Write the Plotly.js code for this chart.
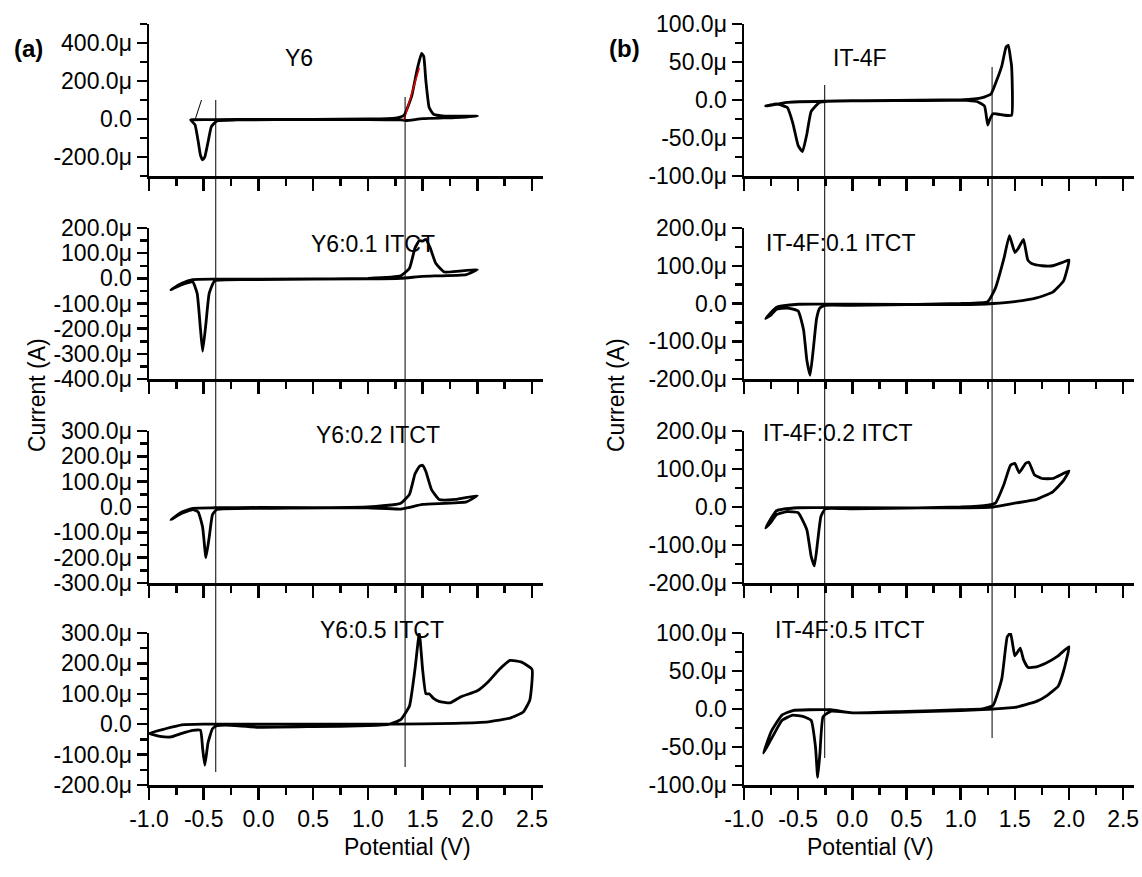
<!DOCTYPE html>
<html>
<head>
<meta charset="utf-8">
<script src="https://cdn.plot.ly/plotly-3.0.1.min.js"></script>
<style>body{margin:0;background:#fff}</style>
</head>
<body>
<div id="chart" style="width:1142px;height:877px"></div>
<script>
// currents in microamps, potentials in volts
const y6X = [-0.62,-0.58,-0.55,-0.53,-0.51,-0.49,-0.46,-0.43,-0.38,-0.2,0.5,1.0,1.25,1.33,1.4,1.45,1.49,1.51,1.53,1.56,1.6,1.7,2.0,1.8,1.5,1.35,1.3,1.0,0.0,-0.4,-0.6,-0.62];
const y6Y = [-5,-30,-120,-190,-215,-200,-120,-40,-10,-5,-2,0,5,20,120,260,345,330,200,60,25,15,15,8,2,-8,-5,-3,-2,-3,-4,-5];

const y61X = [-0.8,-0.7,-0.6,-0.56,-0.53,-0.51,-0.48,-0.45,-0.4,0.0,1.0,1.3,1.38,1.43,1.47,1.5,1.53,1.57,1.62,1.7,2.0,1.9,1.5,1.3,1.0,0.0,-0.4,-0.6,-0.7,-0.8];
const y61Y = [-45,-25,-15,-60,-200,-290,-180,-60,-10,-5,0,10,40,120,150,148,155,120,60,25,35,15,8,0,-2,-3,-3,-5,-20,-45];

const y62X = [-0.8,-0.7,-0.6,-0.55,-0.51,-0.48,-0.45,-0.42,-0.38,0.0,1.0,1.3,1.38,1.43,1.47,1.5,1.53,1.58,1.65,1.8,2.0,1.9,1.5,1.3,1.0,0.0,-0.4,-0.6,-0.7,-0.8];
const y62Y = [-50,-25,-10,-20,-80,-200,-120,-30,-10,-5,0,15,50,130,160,165,140,70,30,30,45,20,10,-8,-3,-2,-3,-5,-20,-50];

const y65X = [0.0,0.5,1.0,1.2,1.3,1.38,1.43,1.47,1.5,1.53,1.56,1.6,1.65,1.75,1.85,2.0,2.1,2.2,2.3,2.4,2.5,2.48,2.42,2.3,2.1,1.8,1.5,1.0,0.5,0.0,-0.3,-0.5,-0.7,-0.85,-1.0,-0.9,-0.8,-0.7,-0.6,-0.53,-0.51,-0.49,-0.46,-0.42,-0.38,-0.3,0.0];
const y65Y = [-10,-8,-5,0,15,60,180,300,180,100,100,85,75,70,90,110,140,180,210,205,180,80,40,20,8,3,1,0,0,0,0,0,-2,-15,-30,-40,-42,-30,-20,-20,-80,-135,-60,-15,-5,-3,-10];

const it4X = [-0.8,-0.7,-0.6,-0.55,-0.5,-0.46,-0.42,-0.38,-0.3,0.0,1.0,1.2,1.28,1.33,1.38,1.42,1.44,1.46,1.47,1.47,1.4,1.3,1.27,1.25,1.22,1.15,1.0,0.0,-0.6,-0.8];
const it4Y = [-8,-5,-10,-30,-60,-68,-45,-15,-3,-1,0,3,8,25,45,70,72,55,45,-20,-20,-18,-25,-33,-8,-2,0,-1,-3,-8];

const it41X = [-0.8,-0.75,-0.7,-0.6,-0.5,-0.45,-0.42,-0.39,-0.36,-0.33,-0.3,-0.25,0.0,1.0,1.25,1.32,1.4,1.45,1.5,1.53,1.58,1.62,1.66,1.75,1.85,1.95,2.0,1.95,1.85,1.7,1.5,1.3,1.0,0.0,-0.5,-0.7,-0.8];
const it41Y = [-40,-30,-15,-12,-20,-70,-150,-190,-120,-40,-12,-5,-5,0,5,40,120,180,135,145,170,115,105,100,100,110,115,60,30,15,5,0,-3,-2,-2,-10,-40];

const it42X = [-0.8,-0.75,-0.7,-0.6,-0.5,-0.42,-0.38,-0.35,-0.32,-0.29,-0.25,0.0,1.0,1.25,1.32,1.4,1.46,1.5,1.54,1.6,1.63,1.68,1.75,1.85,2.0,1.95,1.85,1.7,1.5,1.3,1.0,0.0,-0.5,-0.7,-0.8];
const it42Y = [-55,-40,-20,-12,-15,-60,-130,-155,-90,-25,-5,-5,0,5,10,60,110,115,90,115,118,85,75,75,95,70,40,20,10,0,-2,-2,-2,-10,-55];

const it45X = [0.0,0.5,1.0,1.2,1.3,1.38,1.43,1.46,1.48,1.5,1.55,1.58,1.62,1.68,1.78,1.9,2.0,1.95,1.9,1.8,1.7,1.5,1.3,1.0,0.5,0.0,-0.2,-0.27,-0.3,-0.32,-0.34,-0.38,-0.45,-0.55,-0.65,-0.75,-0.82,-0.75,-0.65,-0.55,-0.4,-0.2,0.0];
const it45Y = [-5,-3,-1,0,5,40,95,100,85,70,80,65,55,55,60,70,82,50,30,18,10,2,0,-2,-4,-5,-3,-10,-60,-90,-50,-15,-10,-8,-15,-40,-58,-30,-8,-2,-1,-1,-5];

const panels = [
  {x: y6X, y: y6Y, name: 'Y6', range: [-300, 500], ticks: [-200, 0, 200, 400], tx: 283, ty: 43},
  {x: y61X, y: y61Y, name: 'Y6:0.1 ITCT', range: [-400, 200], ticks: [-400, -300, -200, -100, 0, 100, 200], tx: 309, ty: 229},
  {x: y62X, y: y62Y, name: 'Y6:0.2 ITCT', range: [-300, 300], ticks: [-300, -200, -100, 0, 100, 200, 300], tx: 314, ty: 435},
  {x: y65X, y: y65Y, name: 'Y6:0.5 ITCT', range: [-200, 300], ticks: [-200, -100, 0, 100, 200, 300], tx: 318, ty: 645},
  {x: it4X, y: it4Y, name: 'IT-4F', range: [-100, 100], ticks: [-100, -50, 0, 50, 100], tx: 889, ty: 43},
  {x: it41X, y: it41Y, name: 'IT-4F:0.1 ITCT', range: [-200, 200], ticks: [-200, -100, 0, 100, 200], tx: 918, ty: 228},
  {x: it42X, y: it42Y, name: 'IT-4F:0.2 ITCT', range: [-200, 200], ticks: [-200, -100, 0, 100, 200], tx: 915, ty: 433},
  {x: it45X, y: it45Y, name: 'IT-4F:0.5 ITCT', range: [-100, 100], ticks: [-100, -50, 0, 50, 100], tx: 927, ty: 645}
];
const onsetA = [-0.39, 1.34];
const onsetB = [-0.255, 1.29];

const W = 1142, H = 877;
const rowsPx = [[24, 176], [228, 379], [431, 583], [633, 785]];
const colsPx = [[149, 543], [744, 1134]];
const xRanges = [[-1.0, 2.6], [-1.0, 2.6]];
const font = {family: 'Liberation Sans, Arial, sans-serif', size: 23, color: '#000'};

function lab(v) { return v === 0 ? '0.0' : v.toFixed(1) + 'μ'; }

let data = [];
let layout = {
  width: W, height: H, margin: {l: 0, r: 0, t: 0, b: 0},
  paper_bgcolor: '#fff', plot_bgcolor: 'rgba(0,0,0,0)',
  showlegend: false, font: font, shapes: [], annotations: []
};

panels.forEach((p, i) => {
  const col = Math.floor(i / 4), row = i % 4, k = i + 1;
  const xa = 'xaxis' + (k === 1 ? '' : k), ya = 'yaxis' + (k === 1 ? '' : k);
  const xr = 'x' + (k === 1 ? '' : k), yr = 'y' + (k === 1 ? '' : k);
  data.push({x: p.x, y: p.y, xaxis: xr, yaxis: yr, mode: 'lines', type: 'scatter',
    line: {color: '#000', width: 2.8, shape: 'spline', smoothing: 0.4}, hoverinfo: 'skip'});
  layout[xa] = {
    domain: [colsPx[col][0] / W, colsPx[col][1] / W], anchor: yr,
    range: xRanges[col], showgrid: false, zeroline: false, showline: true, linecolor: '#000', linewidth: 2.5,
    tickvals: [-1, -0.5, 0, 0.5, 1, 1.5, 2, 2.5], ticktext: ['-1.0', '-0.5', '0.0', '0.5', '1.0', '1.5', '2.0', '2.5'],
    showticklabels: row === 3, ticks: 'outside', ticklen: 12, tickwidth: 2.5, tickcolor: '#000',
    minor: {tickvals: [-0.75, -0.25, 0.25, 0.75, 1.25, 1.75, 2.25], ticks: 'outside', ticklen: 7, tickwidth: 2.5, tickcolor: '#000'},
    tickfont: font
  };
  layout[ya] = {
    domain: [1 - rowsPx[row][1] / H, 1 - rowsPx[row][0] / H], anchor: xr,
    range: p.range, showgrid: false, zeroline: false, showline: true, linecolor: '#000', linewidth: 2.5,
    tickvals: p.ticks, ticktext: p.ticks.map(lab), ticks: 'outside', ticklen: 10, tickwidth: 2.5, tickcolor: '#000',
    minor: {dtick: (p.ticks[1] - p.ticks[0]) / 2, ticks: 'outside', ticklen: 7, tickwidth: 2.5, tickcolor: '#000'},
    tickfont: font
  };
  layout.annotations.push({text: p.name, xref: 'paper', yref: 'paper', x: p.tx / W,
    y: 1 - p.ty / H, showarrow: false, font: font});
});

// onset guide lines
onsetA.forEach((v, j) => layout.shapes.push({type: 'line', xref: 'x4', yref: 'paper', x0: v, x1: v,
  y0: 1 - (j ? 767 : 772) / H, y1: 1 - (j ? 97 : 100) / H, line: {color: '#000', width: 1}}));
onsetB.forEach((v, j) => layout.shapes.push({type: 'line', xref: 'x8', yref: 'paper', x0: v, x1: v,
  y0: 1 - (j ? 738 : 758) / H, y1: 1 - (j ? 67 : 85) / H, line: {color: '#000', width: 1}}));
// tangent lines in Y6 panel
data.push({x: [-0.58, -0.52], y: [-5, 100], xaxis: 'x', yaxis: 'y', mode: 'lines', line: {color: '#000', width: 1}, hoverinfo: 'skip'});
data.push({x: [1.33, 1.47], y: [-5, 270], xaxis: 'x', yaxis: 'y', mode: 'lines', line: {color: '#e00', width: 1.5}, hoverinfo: 'skip'});

const big = {family: font.family, size: 24, color: '#000'};
layout.annotations.push(
  {text: '<b>(a)</b>', xref: 'paper', yref: 'paper', x: 12 / W, y: 1 - 33 / H, xanchor: 'left', showarrow: false, font: big},
  {text: '<b>(b)</b>', xref: 'paper', yref: 'paper', x: 607 / W, y: 1 - 33 / H, xanchor: 'left', showarrow: false, font: big},
  {text: 'Current (A)', xref: 'paper', yref: 'paper', x: 22 / W, y: 1 - 395 / H, textangle: -90, showarrow: false, font: font},
  {text: 'Current (A)', xref: 'paper', yref: 'paper', x: 616 / W, y: 1 - 395 / H, textangle: -90, showarrow: false, font: font},
  {text: 'Potential (V)', xref: 'paper', yref: 'paper', x: 342 / W, y: 1 - 862 / H, showarrow: false, font: font},
  {text: 'Potential (V)', xref: 'paper', yref: 'paper', x: 936 / W, y: 1 - 862 / H, showarrow: false, font: font}
);

Plotly.newPlot('chart', data, layout, {displayModeBar: false, staticPlot: true});
</script>
</body>
</html>
